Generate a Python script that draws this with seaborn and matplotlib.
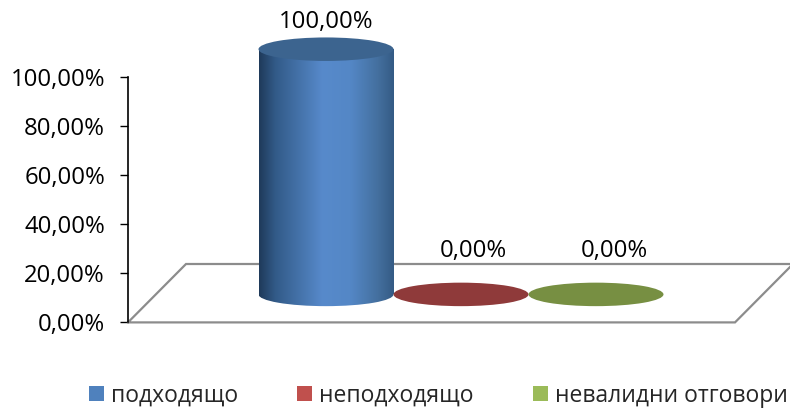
import numpy as np
import seaborn as sns
import matplotlib.pyplot as plt
from matplotlib.patches import Ellipse, Patch, Rectangle
from matplotlib.colors import LinearSegmentedColormap

# Data
categories = ["подходящо", "неподходящо", "невалидни отговори"]
values = [100.0, 0.0, 0.0]
value_labels = ["100,00%", "0,00%", "0,00%"]
y_ticks = [0, 20, 40, 60, 80, 100]
y_tick_labels = ["0,00%", "20,00%", "40,00%", "60,00%", "80,00%", "100,00%"]

# Colours
legend_colors = ["#4F81BD", "#C0504D", "#9BBB59"]
top_colors = ["#3C648F", "#8F3A3A", "#778F42"]
label_dx = [0, 12, 18]
label_dy = [27, 43, 43]

W, H = 790, 408
PX_PER_UNIT = 2.452   # 49 px per 20 %
AXIS_LEFT, AXIS_BOTTOM = 128, 322.4
X0, STEP = 326, 135   # first bar centre and spacing in px
BAR_LIFT = 28 / PX_PER_UNIT   # bars stand on the floor, not on the front edge
ELL_H = 23.5 / PX_PER_UNIT

sns.set_theme(style="white")
plt.rcParams['font.family'] = ['Open Sans', 'DejaVu Sans']

fig = plt.figure(figsize=(W / 100, H / 100), dpi=100)
ax = fig.add_axes([AXIS_LEFT / W, (H - AXIS_BOTTOM) / H, 1 - AXIS_LEFT / W, AXIS_BOTTOM / H])

sns.barplot(x=categories, y=values, hue=categories, palette=legend_colors, width=1.0,
            bottom=BAR_LIFT, legend=False, saturation=1, ax=ax)

xlim = ((AXIS_LEFT - X0) / STEP, (W - X0) / STEP)
ylim = (0, AXIS_BOTTOM / PX_PER_UNIT)


def px_x(p):
    return (p - X0) / STEP


def px_y(p):
    return (AXIS_BOTTOM - p) / PX_PER_UNIT


# Floor of the 3D chart
floor_x = [px_x(128), px_x(735), px_x(793), px_x(186), px_x(128)]
floor_y = [px_y(322.4), px_y(322.4), px_y(264), px_y(264), px_y(322.4)]
ax.plot(floor_x, floor_y, color="#8C8C8C", lw=1.6, zorder=1, clip_on=False, solid_joinstyle="miter")

cyl = LinearSegmentedColormap.from_list("cyl", [(0, "#1F3A5A"), (0.12, "#325A88"), (0.35, "#4A79B3"),
                                                (0.47, "#578ACB"), (0.68, "#5487C6"),
                                                (0.88, "#44709F"), (1, "#345B85")])
grad = np.linspace(0, 1, 256).reshape(1, -1)

bars = [c[0] for c in ax.containers]
for i, bar in enumerate(bars):
    x0, w = bar.get_x(), bar.get_width()
    xc = x0 + w / 2
    base, top = bar.get_y(), bar.get_y() + bar.get_height()
    bar.set_visible(False)
    if bar.get_height() > 0:
        # cylinder body with side shading
        body = Rectangle((x0, base), w, top - base, transform=ax.transData)
        foot = Ellipse((xc, base), w, ELL_H, transform=ax.transData)
        for clip in (body, foot):
            im = ax.imshow(grad, extent=(x0, x0 + w, base - ELL_H, top), aspect="auto", cmap=cyl,
                           zorder=3, interpolation="bilinear")
            im.set_clip_path(clip)
    ax.add_patch(Ellipse((xc, top), w, ELL_H, facecolor=top_colors[i], edgecolor="none", zorder=4))
    ax.annotate(value_labels[i], (xc, top), xytext=(label_dx[i], label_dy[i]), textcoords="offset pixels",
                ha="center", va="center", fontsize=17.2, color="black", annotation_clip=False)

ax.set_xlim(xlim)
ax.set_ylim(ylim)
ax.set_xticks([])
ax.set_yticks(y_ticks)
ax.set_yticklabels(y_tick_labels, fontsize=17.2, color="black")
ax.set_ylabel("")
ax.tick_params(axis="y", length=6, width=1, color="black", left=True, pad=10.5)
sns.despine(ax=ax, top=True, right=True, bottom=True)
ax.spines["left"].set_color("black")
ax.spines["left"].set_linewidth(1.2)
ax.spines["left"].set_bounds(0, 100)
ax.patch.set_alpha(0)

handles = [Patch(facecolor=c, edgecolor="none", label=n) for c, n in zip(legend_colors, categories)]
fig.legend(handles=handles, loc="center left", bbox_to_anchor=(89 / W, (H - 395.5) / H), ncol=3,
           frameon=False, fontsize=16.5, handlelength=0.65, handleheight=0.65, handletextpad=0.3,
           columnspacing=2.6, borderpad=0, borderaxespad=0)

fig.savefig("out.png", dpi=100)
